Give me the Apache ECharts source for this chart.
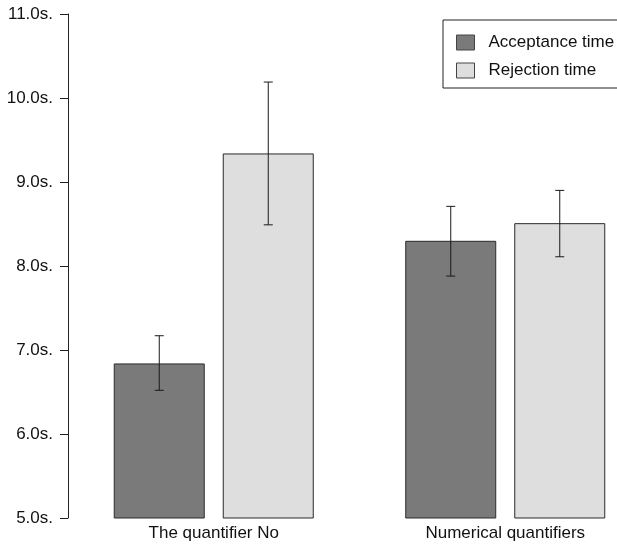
<!DOCTYPE html>
<html>
<head>
<meta charset="utf-8">
<script src="https://cdn.jsdelivr.net/npm/echarts@6/dist/echarts.min.js"></script>
<style>
  html, body { margin: 0; padding: 0; background: #fff; }
  #chart { width: 617px; height: 547px; }
</style>
</head>
<body>
<div id="chart"></div>
<script>
const categories = ["The quantifier No", "Numerical quantifiers"]
const acceptance = [6.84, 8.30]
const rejection = [9.34, 8.51]
// error bar ends (low, high)
const acceptanceLow = [6.52, 7.88]
const acceptanceHigh = [7.17, 8.71]
const rejectionLow = [8.49, 8.11]
const rejectionHigh = [10.19, 8.90]
const yTicks = [5, 6, 7, 8, 9, 10, 11]

const BAR_W = 91
const BAR_GAP = 18
const font = "Liberation Sans, Arial, Helvetica, sans-serif"

const chart = echarts.init(document.getElementById("chart"))

// error bars drawn over the bars, shifted to each bar's centre
const errorSeries = (name, low, high, side) => ({
  type: "custom",
  name: name + " err",
  z: 10,
  silent: true,
  data: low.map((l, i) => [i, l, high[i]]),
  renderItem: (params, api) => {
    const top = api.coord([api.value(0), api.value(2)])
    const bot = api.coord([api.value(0), api.value(1)])
    const x = top[0] + side * (BAR_W + BAR_GAP) / 2
    const cap = 4.5
    const style = { stroke: "#1a1a1a", lineWidth: 1 }
    return {
      type: "group",
      children: [
        { type: "line", shape: { x1: x, y1: top[1], x2: x, y2: bot[1] }, style },
        { type: "line", shape: { x1: x - cap, y1: top[1], x2: x + cap, y2: top[1] }, style },
        { type: "line", shape: { x1: x - cap, y1: bot[1], x2: x + cap, y2: bot[1] }, style }
      ]
    }
  }
})

const option = {
  backgroundColor: "#fff",
  animation: false,
  textStyle: { fontFamily: font },
  grid: { left: 68, top: 14, width: 583, height: 504, outerBoundsMode: "none", containLabel: false },
  legend: {
    data: ["Acceptance time", "Rejection time"],
    orient: "vertical",
    left: 443,
    top: 20,
    padding: [14, 40, 9, 13],
    icon: "rect",
    itemWidth: 18,
    itemHeight: 15,
    itemGap: 11,
    borderColor: "#222",
    borderWidth: 1,
    textStyle: { fontSize: 17, color: "#111", fontFamily: font, padding: [0, 0, 0, 9] },
    itemStyle: { borderColor: "#444", borderWidth: 1 },
    selectedMode: false
  },
  xAxis: {
    type: "category",
    data: categories,
    axisLine: { show: false },
    axisTick: { show: false },
    axisLabel: { fontSize: 17, color: "#111", margin: 7, fontFamily: font }
  },
  yAxis: {
    type: "value",
    min: 5,
    max: 11,
    interval: 1,
    axisLine: { show: true, lineStyle: { color: "#222", width: 1 } },
    axisTick: { show: true, length: 8, lineStyle: { color: "#222" } },
    splitLine: { show: false },
    axisLabel: {
      fontSize: 17,
      color: "#111",
      margin: 15,
      fontFamily: font,
      formatter: v => yTicks.includes(v) ? v.toFixed(1) + "s." : ""
    }
  },
  series: [
    {
      name: "Acceptance time",
      type: "bar",
      data: acceptance,
      barWidth: BAR_W,
      barGap: (BAR_GAP / BAR_W * 100).toFixed(1) + "%",
      itemStyle: { color: "#7a7a7a", borderColor: "#2a2a2a", borderWidth: 1 }
    },
    {
      name: "Rejection time",
      type: "bar",
      data: rejection,
      barWidth: BAR_W,
      itemStyle: { color: "#dedede", borderColor: "#2a2a2a", borderWidth: 1 }
    },
    errorSeries("Acceptance time", acceptanceLow, acceptanceHigh, -1),
    errorSeries("Rejection time", rejectionLow, rejectionHigh, 1)
  ]
}

chart.setOption(option)
</script>
</body>
</html>
